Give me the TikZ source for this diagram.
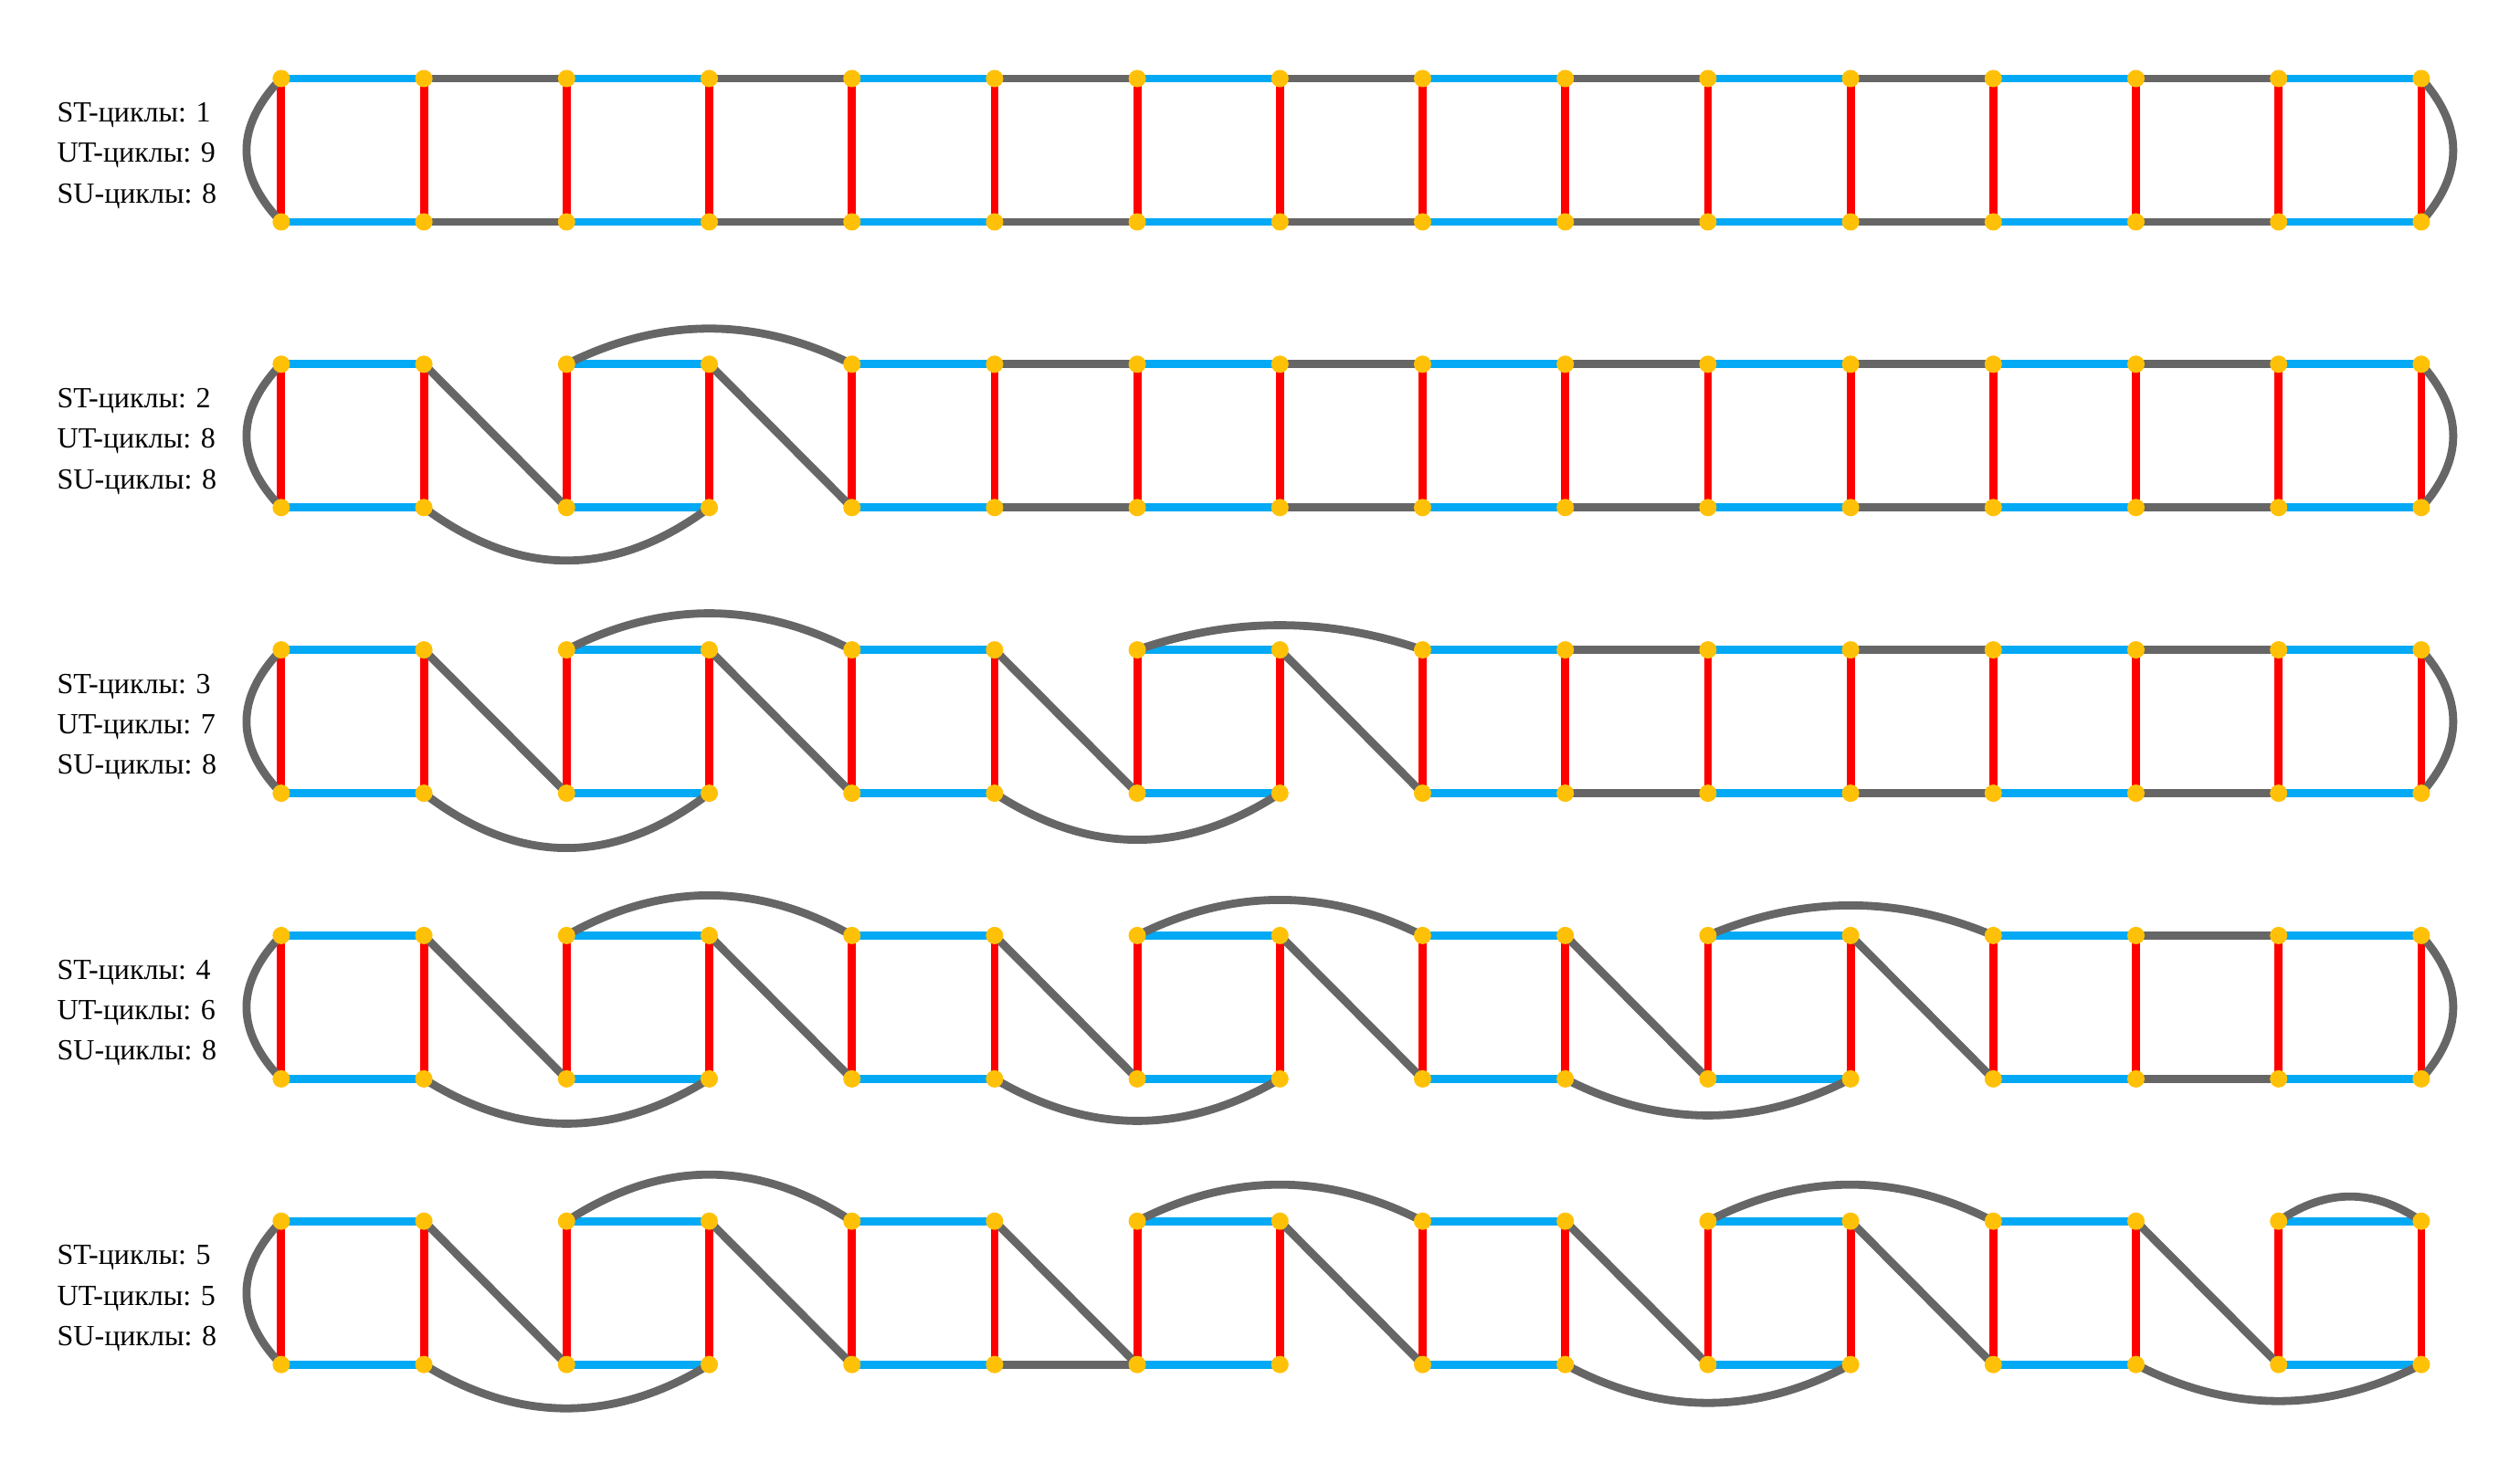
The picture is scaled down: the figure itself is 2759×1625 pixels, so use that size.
\documentclass[tikz,border=0pt]{standalone}
\usepackage{fontspec}
\setmainfont{Liberation Serif}
\usetikzlibrary{calc}
\definecolor{eblue}{HTML}{03A9F4}
\definecolor{egray}{HTML}{666666}
\definecolor{ered}{HTML}{FF0000}
\definecolor{edot}{HTML}{FFC107}
\pgfdeclarelayer{bg}
\pgfsetlayers{bg,main}
\tikzset{
  dot/.style={circle,fill=edot,draw=none,minimum size=0.19cm,inner sep=0pt},
  edgebase/.style={line width=0.088cm},
  blueedge/.style={edgebase,draw=eblue},
  grayedge/.style={edgebase,draw=egray},
  rededge/.style={edgebase,draw=ered},
  lbl/.style={align=left,inner sep=0pt,anchor=west,font=\fontsize{9.1pt}{12.6pt}\selectfont},
  arcup/.style={to path={.. controls ($(\tikztostart)!1/3!(\tikztotarget)+(0,-#1*4/3)$) and ($(\tikztostart)!2/3!(\tikztotarget)+(0,-#1*4/3)$) .. (\tikztotarget)}},
  arcdown/.style={to path={.. controls ($(\tikztostart)!1/3!(\tikztotarget)+(0,#1*4/3)$) and ($(\tikztostart)!2/3!(\tikztotarget)+(0,#1*4/3)$) .. (\tikztotarget)}},
  arcleft/.style={to path={.. controls ($(\tikztostart)!1/3!(\tikztotarget)+(-#1*4/3,0)$) and ($(\tikztostart)!2/3!(\tikztotarget)+(-#1*4/3,0)$) .. (\tikztotarget)}},
  arcright/.style={to path={.. controls ($(\tikztostart)!1/3!(\tikztotarget)+(#1*4/3,0)$) and ($(\tikztostart)!2/3!(\tikztotarget)+(#1*4/3,0)$) .. (\tikztotarget)}}
}
\begin{document}
\begin{tikzpicture}[x=0.01cm,y=-0.01cm]
\useasboundingbox (0,0) rectangle (2759,1625);
% nodes
\foreach \r in {1,...,5} {
  \foreach \i in {0,...,15} {
    \node[dot] (t\r-\i) at ({307.9+156.2*\i},{86+312.8*(\r-1)}) {};
    \node[dot] (b\r-\i) at ({307.9+156.2*\i},{243+312.8*(\r-1)}) {};
  }
}
% labels
\node[lbl] (lab1) at (62,{170.5+312.8*0}) {ST-циклы: 1\\UT-циклы: 9\\SU-циклы: 8};
\node[lbl] (lab2) at (62,{170.5+312.8*1}) {ST-циклы: 2\\UT-циклы: 8\\SU-циклы: 8};
\node[lbl] (lab3) at (62,{170.5+312.8*2}) {ST-циклы: 3\\UT-циклы: 7\\SU-циклы: 8};
\node[lbl] (lab4) at (62,{170.5+312.8*3}) {ST-циклы: 4\\UT-циклы: 6\\SU-циклы: 8};
\node[lbl] (lab5) at (62,{170.5+312.8*4}) {ST-циклы: 5\\UT-циклы: 5\\SU-циклы: 8};
\begin{pgfonlayer}{bg}
\fill[white] (0,0) rectangle (2759,1625);
% red rungs and blue edges
\foreach \r in {1,...,5} {
  \foreach \i in {0,...,15} {
    \draw[rededge] (t\r-\i.center) -- (b\r-\i.center);
  }
  \foreach \i [evaluate=\i as \j using int(\i+1)] in {0,2,...,14} {
    \draw[blueedge] (t\r-\i.center) -- (t\r-\j.center);
    \draw[blueedge] (b\r-\i.center) -- (b\r-\j.center);
  }
}
% straight gray edges
\foreach \r/\i in {1/1,1/3,1/5,1/7,1/9,1/11,1/13,2/5,2/7,2/9,2/11,2/13,3/9,3/11,3/13,4/13} {
  \pgfmathtruncatemacro\j{\i+1}
  \draw[grayedge] (t\r-\i.center) -- (t\r-\j.center);
  \draw[grayedge] (b\r-\i.center) -- (b\r-\j.center);
}
\draw[grayedge] (b5-5.center) -- (b5-6.center);
% diagonals
\foreach \r/\i in {2/1,2/3,3/1,3/3,3/5,3/7,4/1,4/3,4/5,4/7,4/9,4/11,5/1,5/3,5/5,5/7,5/9,5/11,5/13} {
  \pgfmathtruncatemacro\j{\i+1}
  \draw[grayedge] (t\r-\i.center) -- (b\r-\j.center);
}
% side arcs
\foreach \r in {1,...,5} {
  \draw[grayedge] (t\r-0.center) to[arcleft=38] (b\r-0.center);
}
\foreach \r in {1,...,4} {
  \draw[grayedge] (t\r-15.center) to[arcright=35] (b\r-15.center);
}
% arcs below
\foreach \r/\i/\h in {2/1/58,3/1/60,3/5/51,4/1/49,4/5/46,4/9/40,5/1/48,5/9/42,5/13/40} {
  \pgfmathtruncatemacro\j{\i+2}
  \draw[grayedge] (b\r-\i.center) to[arcdown=\h] (b\r-\j.center);
}
% arcs above
\foreach \r/\i/\h in {2/2/39,3/2/40,3/6/27,4/2/44,4/6/39,4/10/33,5/2/51,5/6/40,5/10/40} {
  \pgfmathtruncatemacro\j{\i+2}
  \draw[grayedge] (t\r-\i.center) to[arcup=\h] (t\r-\j.center);
}
\draw[grayedge] (t5-14.center) to[arcup=27] (t5-15.center);
\end{pgfonlayer}
\end{tikzpicture}
\end{document}
